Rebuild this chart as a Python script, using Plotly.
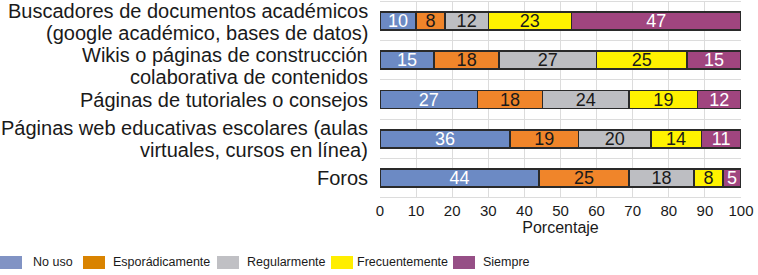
import plotly.graph_objects as go

categories = [
    "Buscadores de documentos académicos (google académico, bases de datos)",
    "Wikis o páginas de construcción colaborativa de contenidos",
    "Páginas de tutoriales o consejos",
    "Páginas web educativas escolares (aulas virtuales, cursos en línea)",
    "Foros",
]
category_lines = [
    ["Buscadores de documentos académicos", "(google académico, bases de datos)"],
    ["Wikis o páginas de construcción", "colaborativa de contenidos"],
    ["Páginas de tutoriales o consejos"],
    ["Páginas web educativas escolares (aulas", "virtuales, cursos en línea)"],
    ["Foros"],
]
series_names = ["No uso", "Esporádicamente", "Regularmente", "Frecuentemente", "Siempre"]
no_uso = [10, 15, 27, 36, 44]
esporadicamente = [8, 18, 18, 19, 25]
regularmente = [12, 27, 24, 20, 18]
frecuentemente = [23, 25, 19, 14, 8]
siempre = [47, 15, 12, 11, 5]
series_values = [no_uso, esporadicamente, regularmente, frecuentemente, siempre]
x_ticks = list(range(0, 101, 10))

bar_colors = ["#6c8ac4", "#f0852a", "#bdbec2", "#fff200", "#a0457f"]
legend_colors = ["#8193c4", "#d98300", "#c0c0c4", "#ffee00", "#964f86"]
text_colors = ["white", "#1a1a1a", "#1a1a1a", "#1a1a1a", "white"]

W, H = 758, 275
ML, MR, MT, MB = 380, 17, 2, 78
PW, PH = W - ML - MR, H - MT - MB
YR = [4.48, -0.48]

fig = go.Figure()
for name, vals, col, tcol in zip(series_names, series_values, bar_colors, text_colors):
    fig.add_trace(go.Bar(
        y=categories, x=vals, orientation="h", name=name,
        marker=dict(color=col, line=dict(color="#2a2a2a", width=1.5)),
        text=[str(v) for v in vals], textposition="inside", textangle=0,
        insidetextanchor="middle", constraintext="none",
        textfont=dict(family="Liberation Sans, Arial", size=18, color=tcol),
        showlegend=False, width=0.46, hoverinfo="skip",
    ))

fig.update_layout(
    barmode="stack",
    width=W, height=H,
    margin=dict(l=ML, r=MR, t=MT, b=MB, autoexpand=False),
    paper_bgcolor="white", plot_bgcolor="white",
    font=dict(family="Liberation Sans, Arial", color="#1a1a1a"),
    xaxis=dict(
        range=[0, 100], tickvals=x_ticks, ticktext=[str(t) for t in x_ticks],
        showgrid=True, gridcolor="#dcdcdc", gridwidth=1, zeroline=False,
        showline=True, linecolor="#dcdcdc", mirror=True,
        tickfont=dict(size=15), ticks="", automargin=False,
        title=dict(text="Porcentaje", font=dict(size=16), standoff=2),
    ),
    yaxis=dict(
        type="category", range=YR, automargin=False,
        tickson="boundaries", showgrid=True, gridcolor="#dcdcdc", gridwidth=1,
        ticks="", showticklabels=False,
    ),
)

# Category labels (right-aligned, tight line spacing)
label_shift_px = [1, 6, 1, 0, 0]
line_gap_px = 21.5
for i, lines in enumerate(category_lines):
    center_px = MT + (i - YR[1]) / (YR[0] - YR[1]) * PH + label_shift_px[i]
    n = len(lines)
    for j, txt in enumerate(lines):
        py = center_px + (j - (n - 1) / 2) * line_gap_px
        fig.add_annotation(xref="paper", yref="paper", x=-10 / PW,
                           y=1 - (py - MT) / PH, text=txt, showarrow=False,
                           xanchor="right", yanchor="middle",
                           font=dict(size=20, color="#1a1a1a"))

# Custom legend row
leg_x = [0, 83, 217, 331, 453]
leg_text_x = [32, 112, 246, 356, 482]
for i, (name, col) in enumerate(zip(series_names, legend_colors)):
    fig.add_shape(type="rect", xref="paper", yref="paper",
                  x0=(leg_x[i] - ML) / PW, x1=(leg_x[i] + 22 - ML) / PW,
                  y0=-(256 - (MT + PH)) / PH, y1=-(269 - (MT + PH)) / PH,
                  fillcolor=col, line=dict(width=0))
    fig.add_annotation(xref="paper", yref="paper",
                       x=(leg_text_x[i] - ML) / PW, y=-(262 - (MT + PH)) / PH,
                       text=name, showarrow=False, xanchor="left", yanchor="middle",
                       xshift=-1,
                       font=dict(family="Liberation Sans Narrow, Arial Narrow, Liberation Sans",
                                 size=12.5, color="#1a1a1a"))

fig.write_html("out.html", config={"displayModeBar": False, "staticPlot": True},
               post_script="document.body.style.margin='0';")
